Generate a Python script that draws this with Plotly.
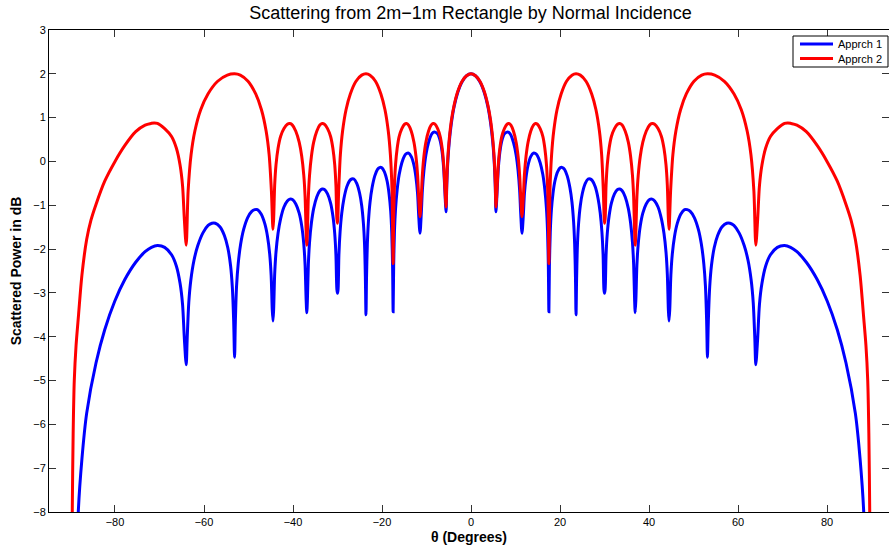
import plotly.graph_objects as go

# Values (right half, theta >= 0); the chart is symmetric about 0.
blue_theta = [0, 1.0, 2.0, 3.0, 3.8, 4.4, 4.9, 5.2, 5.45, 5.6,
              5.89, 6.13, 6.48, 6.92, 7.5, 8.09, 8.53, 8.97, 9.55, 10.14, 10.58, 10.93, 11.17, 11.46,
              11.76, 12.0, 12.37, 12.82, 13.42, 14.03, 14.48, 14.93, 15.54, 16.14, 16.59, 16.96, 17.2, 17.38, 17.5,
              17.62, 17.81, 18.05, 18.42, 18.87, 19.48, 20.09, 20.55, 21.01, 21.62, 22.23, 22.69, 23.05, 23.29, 23.48, 23.6,
              23.73, 23.92, 24.18, 24.56, 25.04, 25.68, 26.32, 26.8, 27.28, 27.92, 28.56, 29.04, 29.42, 29.68, 29.87, 30.0,
              30.14, 30.35, 30.62, 31.04, 31.55, 32.24, 32.93, 33.45, 33.97, 34.66, 35.35, 35.86, 36.28, 36.55, 36.76, 36.9,
              37.05, 37.28, 37.58, 38.04, 38.61, 39.37, 40.13, 40.7, 41.27, 42.03, 42.79, 43.36, 43.82, 44.12, 44.35, 44.5,
              44.66, 44.91, 45.24, 45.73, 46.34, 47.16, 47.99, 48.59, 49.27, 50.18, 51.09, 51.77, 52.31, 52.68, 52.95, 53.13,
              53.33, 53.64, 54.04, 54.65, 55.42, 56.43, 57.45, 58.21, 59.08, 60.24, 61.39, 62.26, 62.96, 63.42, 63.77, 64.0,
              64.42, 64.82, 65.38, 66.2, 67.29, 68.84, 70.46, 71.81, 73.24, 75.35, 77.82, 80.06, 82.31, 84.27, 86.37, 87.44, 88.25, 88.6]
blue_db = [2.0, 1.955, 1.82, 1.57, 1.25, 0.88, 0.43, 0.02, -0.56, -1.15,
           -0.64, -0.17, 0.21, 0.47, 0.63, 0.67, 0.66, 0.60, 0.43, 0.15, -0.21, -0.66, -1.18, -1.64,
           -1.22, -0.74, -0.36, -0.085, 0.11, 0.19, 0.18, 0.13, -0.03, -0.30, -0.64, -1.08, -1.59, -2.39, -3.43,
           -2.40, -1.62, -1.13, -0.73, -0.44, -0.23, -0.14, -0.14, -0.18, -0.33, -0.60, -0.93, -1.37, -1.88, -2.67, -3.5,
           -2.68, -1.90, -1.41, -1.01, -0.72, -0.50, -0.40, -0.40, -0.44, -0.58, -0.85, -1.18, -1.61, -2.12, -2.92, -3.01,
           -2.92, -2.14, -1.65, -1.24, -0.95, -0.74, -0.64, -0.63, -0.67, -0.81, -1.07, -1.40, -1.84, -2.35, -3.15, -3.45,
           -3.15, -2.37, -1.88, -1.47, -1.18, -0.97, -0.87, -0.86, -0.90, -1.04, -1.31, -1.64, -2.07, -2.58, -3.38, -3.64,
           -3.39, -2.60, -2.11, -1.71, -1.42, -1.20, -1.10, -1.10, -1.14, -1.28, -1.55, -1.89, -2.33, -2.84, -3.64, -4.47,
           -3.65, -2.86, -2.37, -1.97, -1.69, -1.49, -1.41, -1.41, -1.46, -1.63, -1.92, -2.26, -2.71, -3.22, -4.02, -4.64,
           -4.03, -3.26, -2.78, -2.39, -2.13, -1.96, -1.92, -1.96, -2.06, -2.30, -2.70, -3.19, -3.84, -4.60, -5.75, -6.8, -8.0, -9.5]

red_theta = [0, 1.0, 2.0, 3.0, 3.8, 4.4, 4.9, 5.2, 5.45, 5.6,
             5.89, 6.13, 6.48, 6.92, 7.5, 8.09, 8.53, 8.97, 9.55, 10.14, 10.58, 10.93, 11.17, 11.46,
             11.76, 12.0, 12.37, 12.82, 13.42, 14.03, 14.48, 14.93, 15.54, 16.14, 16.59, 16.96, 17.2, 17.38, 17.5,
             17.74, 18.11, 18.6, 19.33, 20.25, 21.47, 22.69, 23.6, 24.56, 25.84, 27.12, 28.08, 28.85, 29.36, 29.74, 30.0,
             30.14, 30.35, 30.62, 31.04, 31.55, 32.24, 32.93, 33.45, 33.97, 34.66, 35.35, 35.86, 36.28, 36.55, 36.76, 36.9,
             37.05, 37.28, 37.58, 38.04, 38.61, 39.37, 40.13, 40.7, 41.27, 42.03, 42.79, 43.36, 43.82, 44.12, 44.35, 44.5,
             44.85, 45.36, 46.05, 47.09, 48.38, 50.11, 51.84, 53.13, 54.76, 56.93, 59.11, 60.74, 62.04, 62.91, 63.57, 64.0,
             64.42, 64.82, 65.38, 66.2, 67.29, 68.84, 70.46, 71.2, 71.81, 73.24, 75.35, 77.82, 80.06, 82.31, 84.27, 85.4,
             86.37, 87.44, 88.19, 88.75, 89.15, 89.4, 89.6, 89.7]
red_db = [2.0, 1.955, 1.83, 1.59, 1.28, 0.94, 0.50, 0.10, -0.48, -1.04,
          -0.55, -0.08, 0.30, 0.57, 0.75, 0.85, 0.865, 0.83, 0.69, 0.44, 0.12, -0.31, -0.81, -1.26,
          -0.81, -0.31, 0.12, 0.44, 0.69, 0.83, 0.865, 0.85, 0.75, 0.57, 0.30, -0.08, -0.55, -1.32, -2.33,
          -0.68, 0.15, 0.70, 1.18, 1.54, 1.83, 1.97, 2.0, 1.97, 1.83, 1.54, 1.18, 0.70, 0.15, -0.68, -1.41,
          -1.31, -0.55, -0.08, 0.30, 0.57, 0.75, 0.85, 0.865, 0.83, 0.69, 0.44, 0.12, -0.31, -0.81, -1.60, -1.91,
          -1.60, -0.81, -0.31, 0.12, 0.44, 0.69, 0.83, 0.865, 0.85, 0.75, 0.57, 0.30, -0.08, -0.55, -1.31, -1.55,
          -0.68, 0.15, 0.70, 1.18, 1.54, 1.83, 1.97, 2.0, 1.97, 1.83, 1.54, 1.18, 0.70, 0.15, -0.68, -1.91,
          -1.31, -0.55, -0.08, 0.30, 0.57, 0.75, 0.87, 0.88, 0.87, 0.83, 0.68, 0.36, -0.01, -0.45, -0.98, -1.34,
          -1.78, -2.6, -3.5, -4.2, -5.0, -6.2, -8.0, -9.5]

x_ticks = [-80, -60, -40, -20, 0, 20, 40, 60, 80]
y_ticks = [-8, -7, -6, -5, -4, -3, -2, -1, 0, 1, 2, 3]
series_names = ["Apprch 1", "Apprch 2"]
series_colors = ["#0000FF", "#FF0000"]


def mirrored(theta, vals):
    xs = [-t for t in reversed(theta[1:])] + list(theta)
    ys = list(reversed(vals[1:])) + list(vals)
    return xs, ys


bx, by = mirrored(blue_theta, blue_db)
rx, ry = mirrored(red_theta, red_db)

FONT = "Liberation Sans, Arial, Helvetica, sans-serif"

fig = go.Figure()
fig.add_trace(go.Scatter(x=bx, y=by, mode="lines", name=series_names[0],
                         line=dict(color=series_colors[0], width=3, shape="spline", smoothing=0.8),
                         showlegend=False))
fig.add_trace(go.Scatter(x=rx, y=ry, mode="lines", name=series_names[1],
                         line=dict(color=series_colors[1], width=3, shape="spline", smoothing=0.8),
                         showlegend=False))

L, R, T, B = 49, 0, 30, 40
W, H = 889, 552
pw, ph = W - L - R, H - T - B


def px2x(px):
    return (px - L) / pw


def py2y(py):
    return (H - B - py) / ph


# Legend box drawn as in the reference
shapes = [dict(type="rect", xref="paper", yref="paper", x0=px2x(793), x1=px2x(888),
               y0=py2y(67), y1=py2y(36), line=dict(color="black", width=1), fillcolor="white", layer="above")]
annotations = []
for i, (nm, col) in enumerate(zip(series_names, series_colors)):
    yy = py2y(44 + 14.5 * i)
    shapes.append(dict(type="line", xref="paper", yref="paper", x0=px2x(800), x1=px2x(833),
                       y0=yy, y1=yy, line=dict(color=col, width=3), layer="above"))
    annotations.append(dict(text=nm, xref="paper", yref="paper", x=px2x(836), y=yy,
                            xanchor="left", yanchor="middle", showarrow=False,
                            font=dict(family=FONT, size=11, color="black")))

fig.update_layout(
    width=W, height=H,
    margin=dict(l=L, r=R, t=T, b=B),
    paper_bgcolor="white", plot_bgcolor="white",
    font=dict(family=FONT, size=11, color="black"),
    title=dict(text="Scattering from 2m\u22121m Rectangle by Normal Incidence",
               x=470.5 / W, xanchor="center", y=1 - 13 / H, yanchor="middle",
               font=dict(family=FONT, size=18, color="black")),
    shapes=shapes, annotations=annotations,
    showlegend=False,
)
fig.update_xaxes(range=[-94.83, 93.93], tickvals=x_ticks, ticks="inside", ticklen=7,
                 tickcolor="#333333", tickwidth=1, showline=True, linecolor="black", linewidth=1,
                 mirror="ticks", showgrid=False, zeroline=False,
                 tickfont=dict(family=FONT, size=11, color="black"),
                 title=dict(text="<b>\u03b8 (Degrees)</b>", font=dict(family=FONT, size=14, color="black"),
                            standoff=4))
fig.update_yaxes(range=[-8, 3], tickvals=y_ticks, ticks="inside", ticklen=7,
                 tickcolor="#333333", tickwidth=1, showline=True, linecolor="black", linewidth=1,
                 mirror="ticks", showgrid=False, zeroline=False,
                 tickfont=dict(family=FONT, size=11, color="black"),
                 title=dict(text="<b>Scattered Power in dB</b>", font=dict(family=FONT, size=14, color="black"),
                            standoff=8))

fig.write_html("out.html")
